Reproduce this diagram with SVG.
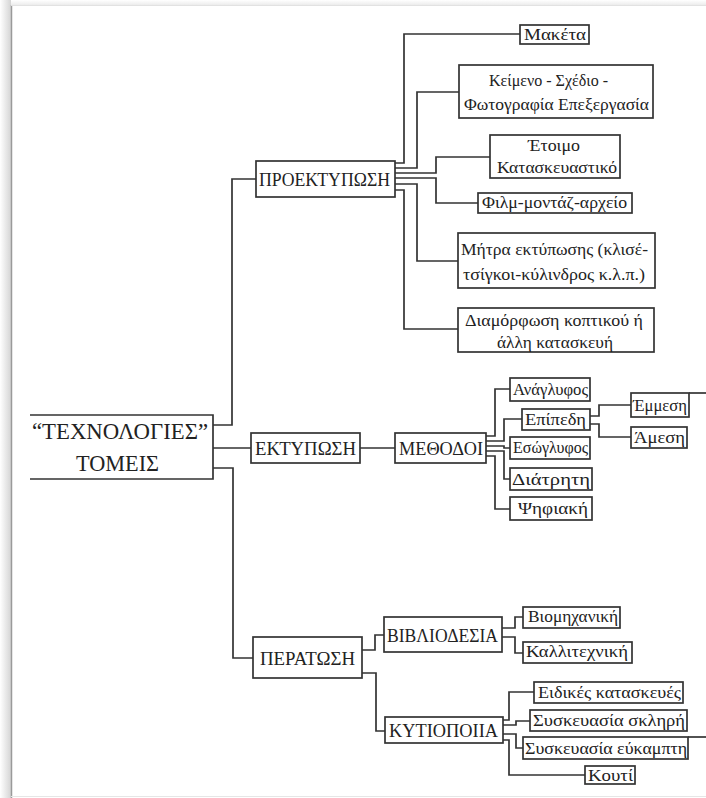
<svg xmlns="http://www.w3.org/2000/svg" width="706" height="798" viewBox="0 0 706 798">
<defs>
<linearGradient id="shL" x1="0" y1="0" x2="1" y2="0">
<stop offset="0" stop-color="#ffffff"/>
<stop offset="1" stop-color="#d4d4d4"/>
</linearGradient>
<linearGradient id="shT" x1="0" y1="0" x2="0" y2="1">
<stop offset="0" stop-color="#ffffff"/>
<stop offset="1" stop-color="#ececec"/>
</linearGradient>
<style>
.box{fill:#fff;stroke:#333;stroke-width:1.7}
.c{fill:none;stroke:#333;stroke-width:1.7}
.ln{stroke:#333;stroke-width:1.7}
text{font-family:"Liberation Serif","DejaVu Serif","Times New Roman",serif;fill:#222}
.s{font-size:16px}
.m{font-size:17px}
.l{font-size:18px}
.xl{font-size:19px}
.r{font-size:23px}
</style>
</defs>
<rect x="0" y="0" width="706" height="798" fill="#fff"/>
<rect x="0" y="0" width="11" height="798" fill="url(#shL)"/>
<rect x="11" y="0" width="695" height="5" fill="url(#shT)"/>
<line x1="11.5" y1="5" x2="11.5" y2="798" stroke="#9a9a9a" stroke-width="1.5"/>
<line x1="11" y1="5.5" x2="706" y2="5.5" stroke="#e2e2e2" stroke-width="1"/>
<line x1="11" y1="796.5" x2="706" y2="796.5" stroke="#e6e6e6" stroke-width="1"/>

<g id="connectors">
<path class="c" d="M213,425 H232 V179 H256"/>
<path class="c" d="M213,448 H251"/>
<path class="c" d="M213,468 H233 V658 H253"/>
<path class="c" d="M395,163 H404 V34 H520"/>
<path class="c" d="M395,168 H417 V92 H459"/>
<path class="c" d="M395,173 H436 V157 H490"/>
<path class="c" d="M395,178 H436 V203 H478"/>
<path class="c" d="M395,184 H417 V261 H458"/>
<path class="c" d="M395,190 H404 V329 H458"/>
<path class="c" d="M360,448 H395"/>
<path class="c" d="M486,436 H495 V389 H510"/>
<path class="c" d="M486,441 H504 V419 H522"/>
<path class="c" d="M486,446 H504 V448 H510"/>
<path class="c" d="M486,451 H504 V479 H510"/>
<path class="c" d="M486,456 H495 V509 H510"/>
<path class="c" d="M590,416 H599 V405 H631"/>
<path class="c" d="M590,424 H599 V437 H631"/>
<path class="c" d="M362,650 H375 V635 H384"/>
<path class="c" d="M362,673 H376 V731 H385"/>
<path class="c" d="M502,628 H515 V617 H523"/>
<path class="c" d="M502,637 H515 V653 H523"/>
<path class="c" d="M503,720 H509 V692 H534"/>
<path class="c" d="M503,725 H516 V721 H530"/>
<path class="c" d="M503,734 H516 V748 H523"/>
<path class="c" d="M503,740 H509 V775 H585"/>
</g>

<g id="root">
<path d="M30,415 H213 V479 H30" fill="#fff" stroke="#333" stroke-width="1.7"/>
<text class="r" x="32" y="439" textLength="176" lengthAdjust="spacingAndGlyphs">“ΤΕΧΝΟΛΟΓΙΕΣ”</text>
<text class="r" x="76" y="471" textLength="83" lengthAdjust="spacingAndGlyphs">ΤΟΜΕΙΣ</text>
</g>

<g id="proektyposi">
<rect class="box" x="256" y="161" width="139" height="36"/>
<text class="l" x="259" y="186" textLength="131" lengthAdjust="spacingAndGlyphs">ΠΡΟΕΚΤΥΠΩΣΗ</text>
</g>
<g id="maketa">
<rect class="box" x="520" y="25" width="69" height="19"/>
<text class="s" x="524" y="40" textLength="62" lengthAdjust="spacingAndGlyphs">Μακέτα</text>
</g>
<g id="keimeno">
<rect class="box" x="459" y="65" width="194" height="53"/>
<text class="m" x="489" y="86" textLength="119" lengthAdjust="spacingAndGlyphs">Κείμενο - Σχέδιο -</text>
<text class="m" x="464" y="110" textLength="185" lengthAdjust="spacingAndGlyphs">Φωτογραφία Επεξεργασία</text>
</g>
<g id="etoimo">
<rect class="box" x="490" y="135" width="130" height="43"/>
<text class="m" x="528" y="151" textLength="52" lengthAdjust="spacingAndGlyphs">Έτοιμο</text>
<text class="m" x="497" y="173" textLength="120" lengthAdjust="spacingAndGlyphs">Κατασκευαστικό</text>
</g>
<g id="film">
<rect class="box" x="478" y="193" width="154" height="20"/>
<text class="m" x="482" y="208" textLength="145" lengthAdjust="spacingAndGlyphs">Φιλμ-μοντάζ-αρχείο</text>
</g>
<g id="mitra">
<rect class="box" x="458" y="233" width="197" height="55"/>
<text class="m" x="461" y="255" textLength="187" lengthAdjust="spacingAndGlyphs">Μήτρα εκτύπωσης (κλισέ-</text>
<text class="m" x="463" y="280" textLength="182" lengthAdjust="spacingAndGlyphs">τσίγκοι-κύλινδρος κ.λ.π.)</text>
</g>
<g id="diamorfosi">
<rect class="box" x="458" y="308" width="196" height="44"/>
<text class="m" x="465" y="326" textLength="178" lengthAdjust="spacingAndGlyphs">Διαμόρφωση κοπτικού ή</text>
<text class="m" x="497" y="348" textLength="116" lengthAdjust="spacingAndGlyphs">άλλη κατασκευή</text>
</g>

<g id="ektyposi">
<rect class="box" x="251" y="433" width="109" height="30"/>
<text class="l" x="255" y="455" textLength="101" lengthAdjust="spacingAndGlyphs">ΕΚΤΥΠΩΣΗ</text>
</g>
<g id="methodoi">
<rect class="box" x="395" y="433" width="91" height="30"/>
<text class="l" x="399" y="455" textLength="84" lengthAdjust="spacingAndGlyphs">ΜΕΘΟΔΟΙ</text>
</g>
<g id="anaglyfos">
<rect class="box" x="510" y="378" width="80" height="23"/>
<text class="s" x="513" y="395" textLength="75" lengthAdjust="spacingAndGlyphs">Ανάγλυφος</text>
</g>
<g id="epipedi">
<rect class="box" x="522" y="409" width="68" height="21"/>
<text class="s" x="525" y="425" textLength="61" lengthAdjust="spacingAndGlyphs">Επίπεδη</text>
</g>
<g id="esoglyfos">
<rect class="box" x="510" y="437" width="80" height="22"/>
<text class="s" x="513" y="453" textLength="75" lengthAdjust="spacingAndGlyphs">Εσώγλυφος</text>
</g>
<g id="diatriti">
<rect class="box" x="510" y="468" width="82" height="22"/>
<text class="s" x="512" y="485" textLength="78" lengthAdjust="spacingAndGlyphs">Διάτρητη</text>
</g>
<g id="psifiaki">
<rect class="box" x="510" y="497" width="82" height="23"/>
<text class="s" x="518" y="514" textLength="70" lengthAdjust="spacingAndGlyphs">Ψηφιακή</text>
</g>
<g id="emmesi">
<rect class="box" x="631" y="393" width="58" height="24"/>
<line class="ln" x1="689" y1="393" x2="706" y2="393"/>
<text class="s" x="633" y="411" textLength="54" lengthAdjust="spacingAndGlyphs">Έμμεση</text>
</g>
<g id="amesi">
<rect class="box" x="631" y="427" width="56" height="21"/>
<text class="s" x="634" y="443" textLength="51" lengthAdjust="spacingAndGlyphs">Άμεση</text>
</g>

<g id="peratosi">
<rect class="box" x="253" y="637" width="109" height="41"/>
<text class="xl" x="260" y="665" textLength="95" lengthAdjust="spacingAndGlyphs">ΠΕΡΑΤΩΣΗ</text>
</g>
<g id="vivliodesia">
<rect class="box" x="384" y="617" width="118" height="35"/>
<text class="xl" x="387" y="642" textLength="111" lengthAdjust="spacingAndGlyphs">ΒΙΒΛΙΟΔΕΣΙΑ</text>
</g>
<g id="viomichaniki">
<rect class="box" x="523" y="607" width="97" height="21"/>
<text class="s" x="528" y="622" textLength="90" lengthAdjust="spacingAndGlyphs">Βιομηχανική</text>
</g>
<g id="kallitechniki">
<rect class="box" x="523" y="642" width="109" height="21"/>
<text class="s" x="526" y="657" textLength="102" lengthAdjust="spacingAndGlyphs">Καλλιτεχνική</text>
</g>
<g id="kytiopoiia">
<rect class="box" x="385" y="717" width="118" height="26"/>
<text class="xl" x="389" y="737" textLength="109" lengthAdjust="spacingAndGlyphs">ΚΥΤΙΟΠΟΙΙΑ</text>
</g>
<g id="eidikes">
<rect class="box" x="534" y="682" width="149" height="21"/>
<text class="s" x="538" y="698" textLength="143" lengthAdjust="spacingAndGlyphs">Ειδικές κατασκευές</text>
</g>
<g id="sklira">
<rect class="box" x="530" y="710" width="157" height="21"/>
<text class="s" x="533" y="726" textLength="152" lengthAdjust="spacingAndGlyphs">Συσκευασία σκληρή</text>
</g>
<g id="eykampti">
<rect class="box" x="523" y="737" width="165" height="22"/>
<line class="ln" x1="688" y1="737" x2="706" y2="737"/>
<text class="s" x="525" y="754" textLength="162" lengthAdjust="spacingAndGlyphs">Συσκευασία εύκαμπτη</text>
</g>
<g id="kouti">
<rect class="box" x="585" y="766" width="50" height="18"/>
<text class="s" x="588" y="781" textLength="45" lengthAdjust="spacingAndGlyphs">Κουτί</text>
</g>
</svg>
